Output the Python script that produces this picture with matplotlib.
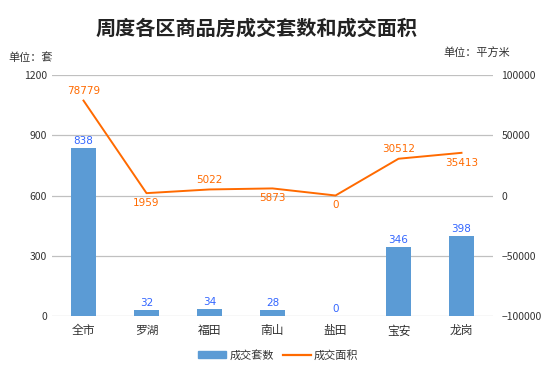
import matplotlib
matplotlib.use("Agg")
import matplotlib.pyplot as plt
import numpy as np

plt.rcParams['font.family'] = ['Noto Sans CJK SC', 'DejaVu Sans']

categories = ["全市", "罗湖", "福田", "南山", "盐田", "宝安", "龙岗"]
units = [838, 32, 34, 28, 0, 346, 398]
area = [78779, 1959, 5022, 5873, 0, 30512, 35413]
area_label_above = [True, False, True, False, False, True, False]

bar_color = "#5B9BD5"
line_color = "#FF6A00"

fig = plt.figure(figsize=(5.57, 3.71), dpi=100)
ax = fig.add_axes([52/557, 1-316/371, 441/557, 241/371])
ax2 = ax.twinx()

x = np.arange(len(categories))
ax.bar(x, units, width=0.4, color=bar_color, zorder=2)
ax.set_ylim(0, 1200)
ax.set_yticks([0, 300, 600, 900, 1200])
ax.set_xlim(-0.5, len(categories) - 0.5)
ax.set_xticks(x)
ax.set_xticklabels(categories, fontsize=8.5, color="#333333")
ax.grid(axis='y', color="#c0c0c0", linewidth=0.9, zorder=0)
ax.set_axisbelow(True)
for s in ax.spines.values():
    s.set_visible(False)
ax.tick_params(axis='both', length=0, labelsize=7.5, colors="#333333")
ax.tick_params(axis='x', pad=6, labelsize=8.5)

for xi, v in zip(x, units):
    ax.text(xi, v + 10, str(v), ha='center', va='bottom', fontsize=7.5, color="#3366FF", family='DejaVu Sans')

ax2.plot(x, area, color=line_color, linewidth=1.4, zorder=3)
ax2.set_ylim(-100000, 100000)
ax2.set_yticks([-100000, -50000, 0, 50000, 100000])
for s in ax2.spines.values():
    s.set_visible(False)
ax2.tick_params(axis='y', length=0, labelsize=7.5, colors="#333333", pad=6)

for xi, v, above in zip(x, area, area_label_above):
    if above:
        ax2.text(xi, v + 4000, str(v), ha='center', va='bottom', fontsize=7.5, color=line_color, family='DejaVu Sans')
    else:
        ax2.text(xi, v - 4000, str(v), ha='center', va='top', fontsize=7.5, color=line_color, family='DejaVu Sans')

fig.text(257/557, 1-28/371, "周度各区商品房成交套数和成交面积", ha='center', va='center', fontsize=14.5, fontweight='bold', color="#222222")
fig.text(8/557, 1-58/371, "单位：套", ha='left', va='center', fontsize=8, color="#333333")
fig.text(510/557, 1-52/371, "单位：平方米", ha='right', va='center', fontsize=8, color="#333333")

from matplotlib.patches import Patch
from matplotlib.lines import Line2D
handles = [Patch(color=bar_color, label="成交套数"), Line2D([0], [0], color=line_color, linewidth=1.6, label="成交面积")]
fig.legend(handles=handles, loc='center', bbox_to_anchor=(0.5, 1-355/371), ncol=2, frameon=False, fontsize=8,
           handlelength=2.5, handleheight=0.7, columnspacing=0.8, handletextpad=0.3, labelcolor="#333333")

fig.savefig("out.png", dpi=100)
